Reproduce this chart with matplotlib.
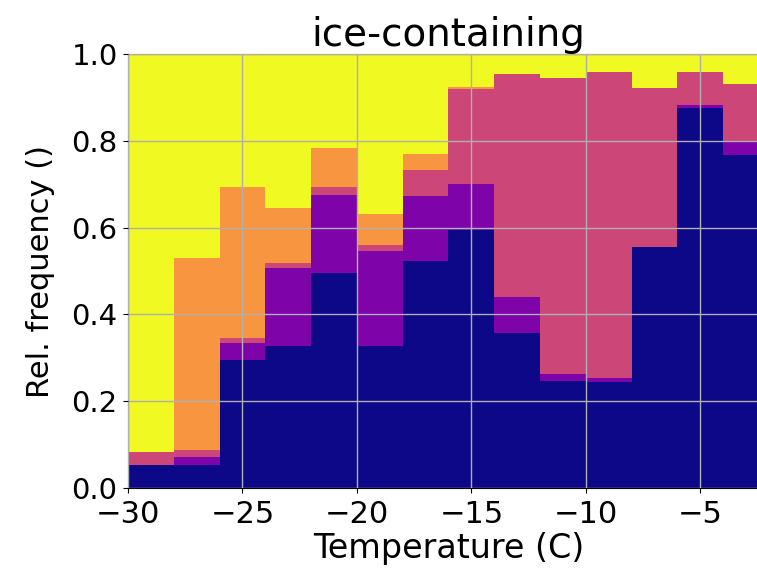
import numpy as np
import matplotlib
matplotlib.use("Agg")
import matplotlib.pyplot as plt

# bin left edges (2 degree bins)
bin_left = [-30, -28, -26, -24, -22, -20, -18, -16, -14, -12, -10, -8, -6, -4]

# relative frequency of each class per bin (bottom to top)
cls0 = [0.053, 0.053, 0.295, 0.327, 0.495, 0.327, 0.523, 0.594, 0.356, 0.247, 0.245, 0.556, 0.875, 0.767]
cls1 = [0.000, 0.019, 0.038, 0.181, 0.180, 0.220, 0.150, 0.106, 0.083, 0.015, 0.008, 0.000, 0.007, 0.031]
cls2 = [0.031, 0.016, 0.013, 0.010, 0.019, 0.013, 0.060, 0.219, 0.514, 0.682, 0.706, 0.365, 0.077, 0.132]
cls3 = [0.000, 0.442, 0.348, 0.128, 0.090, 0.071, 0.036, 0.006, 0.000, 0.000, 0.000, 0.000, 0.000, 0.000]
cls4 = [0.916, 0.470, 0.306, 0.354, 0.216, 0.369, 0.231, 0.075, 0.047, 0.056, 0.041, 0.079, 0.041, 0.070]

series = [cls0, cls1, cls2, cls3, cls4]
colors = [plt.cm.plasma(v) for v in [0.0, 0.25, 0.5, 0.75, 1.0]]

fig = plt.figure(figsize=(7.57, 5.75), dpi=100)
ax = fig.add_axes([128/757, 1 - 488/575, 641/757, 434/575])

bottom = np.zeros(len(bin_left))
for s, c in zip(series, colors):
    ax.bar(bin_left, s, width=2, bottom=bottom, align='edge', color=c, linewidth=0)
    bottom += np.array(s)

ax.set_xlim(-30, -2)
ax.set_ylim(0, 1)
ax.set_axisbelow(False)
ax.grid(True, color='#b0b0b0', linewidth=1)
ax.set_xticks([-30, -25, -20, -15, -10, -5])
ax.set_yticks([0, 0.2, 0.4, 0.6, 0.8, 1.0])
ax.tick_params(axis='x', labelsize=22, pad=5)
ax.tick_params(axis='y', labelsize=21, pad=4)
ax.set_xlabel('Temperature (C)', fontsize=24, labelpad=2)
ax.set_ylabel('Rel. frequency ()', fontsize=22, labelpad=12)
ax.set_title('ice-containing', fontsize=28, pad=4)

fig.savefig('out.png', dpi=100)
